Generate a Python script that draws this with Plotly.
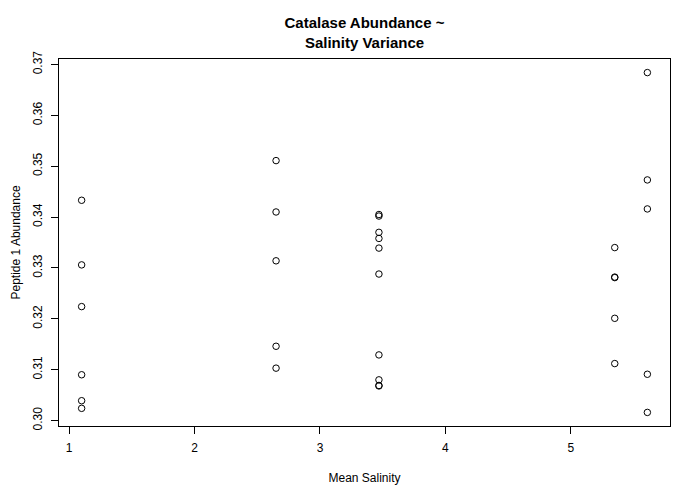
import plotly.graph_objects as go

# mean salinity of each site and the peptide 1 abundance measured there
salinity = [1.10] * 6 + [2.65] * 5 + [3.47] * 10 + [5.35] * 5 + [5.61] * 5
abundance = [
    0.3433, 0.3306, 0.3224, 0.3090, 0.3039, 0.3024,
    0.3511, 0.3410, 0.3314, 0.3146, 0.3103,
    0.3405, 0.3402, 0.3370, 0.3358, 0.3339, 0.3288, 0.3129, 0.3080, 0.3068, 0.3069,
    0.3340, 0.3282, 0.3281, 0.3201, 0.3112,
    0.3684, 0.3473, 0.3416, 0.3091, 0.3016,
]
x_ticks = [1, 2, 3, 4, 5]
y_ticks = [0.30, 0.31, 0.32, 0.33, 0.34, 0.35, 0.36, 0.37]

font = "Liberation Sans, Arial, sans-serif"

fig = go.Figure()
fig.add_trace(go.Scatter(
    x=salinity, y=abundance, mode="markers",
    marker=dict(symbol="circle-open", size=6.5, color="black", line=dict(width=1)),
    showlegend=False,
))

# R pads the data range by 4% on each side
xr = max(salinity) - min(salinity)
yr = max(abundance) - min(abundance)

axis_style = dict(
    showline=True, mirror=True, linecolor="black", linewidth=1,
    ticks="outside", ticklen=7, tickcolor="black", tickwidth=1,
    showgrid=False, zeroline=False, automargin=False, ticklabelstandoff=4,
    tickfont=dict(family=font, size=12, color="black"),
)

fig.update_xaxes(
    range=[min(salinity) - 0.04 * xr, max(salinity) + 0.04 * xr],
    tickvals=x_ticks,
    title=dict(text="Mean Salinity", font=dict(family=font, size=12, color="black"), standoff=19),
    **axis_style,
)
fig.update_yaxes(
    range=[min(abundance) - 0.04 * yr, max(abundance) + 0.04 * yr],
    tickvals=y_ticks, tickformat=".2f", tickangle=-90,
    **axis_style,
)

# y title as an annotation, as far left as the page allows
fig.add_annotation(
    text="Peptide 1 Abundance", textangle=-90,
    x=0, xref="paper", y=0.5, yref="paper",
    xanchor="center", yanchor="middle", xshift=-44,
    showarrow=False, font=dict(family=font, size=12, color="black"),
)

# the page adds an 8px body margin, so the margins are shifted to compensate
fig.update_layout(
    width=700, height=500,
    margin=dict(l=51, r=38, t=51, b=82),
    paper_bgcolor="white", plot_bgcolor="white",
    title=dict(
        text="<b>Catalase Abundance ~<br>Salinity Variance</b>",
        x=0.5, xref="paper", xanchor="center",
        y=0.96, yref="container", yanchor="top",
        font=dict(family=font, size=15, color="black"),
        automargin=False,
    ),
)

fig.write_html("out.html")
